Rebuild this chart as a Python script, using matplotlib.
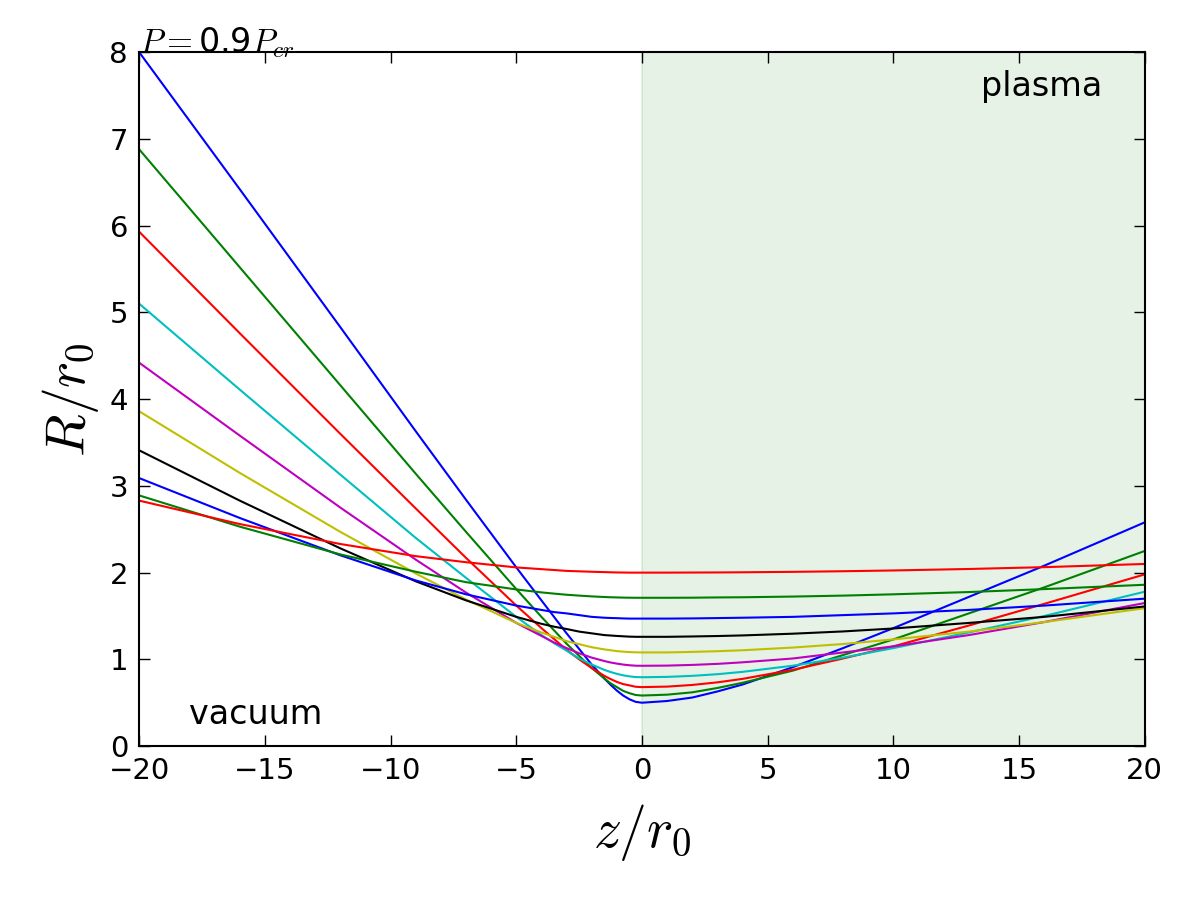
import matplotlib
matplotlib.use('Agg')
import matplotlib.pyplot as plt

plt.rcParams['mathtext.fontset'] = 'cm'

z = [-20, -16, -12, -9, -7, -5, -4, -3.5, -3, -2.5, -2, -1.5, -1.25, -1, -0.75, -0.5, -0.25, 0,
     1, 2, 3, 4, 6, 8, 10, 13, 16, 20]

# beam radius R/r0 for each starting waist
r_1 = [8.00, 6.42, 4.83, 3.63, 2.84, 2.06, 1.68, 1.49, 1.30, 1.12, 0.94, 0.78, 0.707, 0.64, 0.583, 0.54, 0.51, 0.50,
       0.52, 0.56, 0.63, 0.71, 0.91, 1.13, 1.36, 1.72, 2.08, 2.58]
r_2 = [6.88, 5.52, 4.16, 3.14, 2.47, 1.81, 1.49, 1.335, 1.18, 1.04, 0.90, 0.78, 0.724, 0.68, 0.637, 0.61, 0.589, 0.583,
       0.593, 0.62, 0.67, 0.73, 0.87, 1.05, 1.23, 1.53, 1.83, 2.25]
r_3 = [5.93, 4.76, 3.60, 2.74, 2.17, 1.62, 1.36, 1.235, 1.11, 1.00, 0.90, 0.81, 0.773, 0.74, 0.715, 0.70, 0.684, 0.68,
       0.686, 0.705, 0.735, 0.775, 0.88, 1.01, 1.15, 1.39, 1.64, 1.98]
r_4 = [5.10, 4.11, 3.13, 2.40, 1.94, 1.49, 1.28, 1.187, 1.10, 1.01, 0.94, 0.879, 0.854, 0.833, 0.816, 0.804, 0.796, 0.794,
       0.798, 0.81, 0.829, 0.856, 0.927, 1.02, 1.13, 1.31, 1.50, 1.78]
r_5 = [4.42, 3.58, 2.75, 2.15, 1.77, 1.42, 1.27, 1.195, 1.13, 1.07, 1.02, 0.981, 0.964, 0.951, 0.94, 0.932, 0.927, 0.926,
       0.928, 0.936, 0.948, 0.966, 1.01, 1.08, 1.15, 1.28, 1.43, 1.65]
r_6 = [3.86, 3.15, 2.47, 1.99, 1.69, 1.42, 1.31, 1.26, 1.21, 1.175, 1.14, 1.115, 1.105, 1.095, 1.089, 1.084, 1.081, 1.08,
       1.08, 1.086, 1.094, 1.105, 1.136, 1.177, 1.23, 1.32, 1.43, 1.59]
r_7 = [3.41, 2.83, 2.28, 1.90, 1.68, 1.49, 1.41, 1.377, 1.35, 1.32, 1.30, 1.28, 1.275, 1.27, 1.266, 1.262, 1.26, 1.26,
       1.26, 1.264, 1.269, 1.276, 1.296, 1.322, 1.356, 1.42, 1.49, 1.61]
r_8 = [3.09, 2.63, 2.20, 1.91, 1.75, 1.62, 1.57, 1.545, 1.53, 1.51, 1.49, 1.48, 1.477, 1.475, 1.472, 1.47, 1.47, 1.47,
       1.47, 1.472, 1.476, 1.48, 1.49, 1.51, 1.53, 1.57, 1.62, 1.70]
r_9 = [2.89, 2.53, 2.21, 2.01, 1.89, 1.806, 1.772, 1.758, 1.745, 1.735, 1.726, 1.719, 1.716, 1.714, 1.712, 1.711, 1.71, 1.71,
       1.71, 1.711, 1.714, 1.716, 1.724, 1.735, 1.75, 1.776, 1.81, 1.86]
r_10 = [2.83, 2.56, 2.33, 2.19, 2.12, 2.06, 2.04, 2.03, 2.02, 2.015, 2.01, 2.006, 2.004, 2.002, 2.001, 2.0, 2.0, 2.0,
        2.0, 2.001, 2.002, 2.004, 2.009, 2.016, 2.025, 2.042, 2.063, 2.10]

curves = [r_1, r_2, r_3, r_4, r_5, r_6, r_7, r_8, r_9, r_10]
colors = ['b', 'g', 'r', 'c', 'm', 'y', 'k', 'b', 'g', 'r']

fig = plt.figure(figsize=(12, 9), dpi=100)
ax = fig.add_axes([0.116, 0.171, 0.838, 0.771])

# plasma region
ax.axvspan(0, 20, color='g', alpha=0.1, lw=1.5)

for r, c in zip(curves, colors):
    ax.plot(z, r, color=c, lw=1.5)

ax.set_xlim(-20, 20)
ax.set_ylim(0, 8)
ax.set_xticks(range(-20, 21, 5))
ax.set_yticks(range(0, 9))
ax.tick_params(direction='in', top=True, right=True, length=8, width=1,
               labelsize=21, pad=8)
for s in ax.spines.values():
    s.set_linewidth(1.5)

ax.set_xlabel('$z/r_0$', fontsize=40, labelpad=12)
ax.set_ylabel('$R/r_0$', fontsize=40, labelpad=6)

ax.text(13.5, 7.5, 'plasma', fontsize=24)
ax.text(-18, 0.25, 'vacuum', fontsize=24)
ax.text(-20, 8.0, '$P=$0.9$P_{cr}$', fontsize=24, va='baseline', ha='left')

fig.savefig('out.png', dpi=100)
